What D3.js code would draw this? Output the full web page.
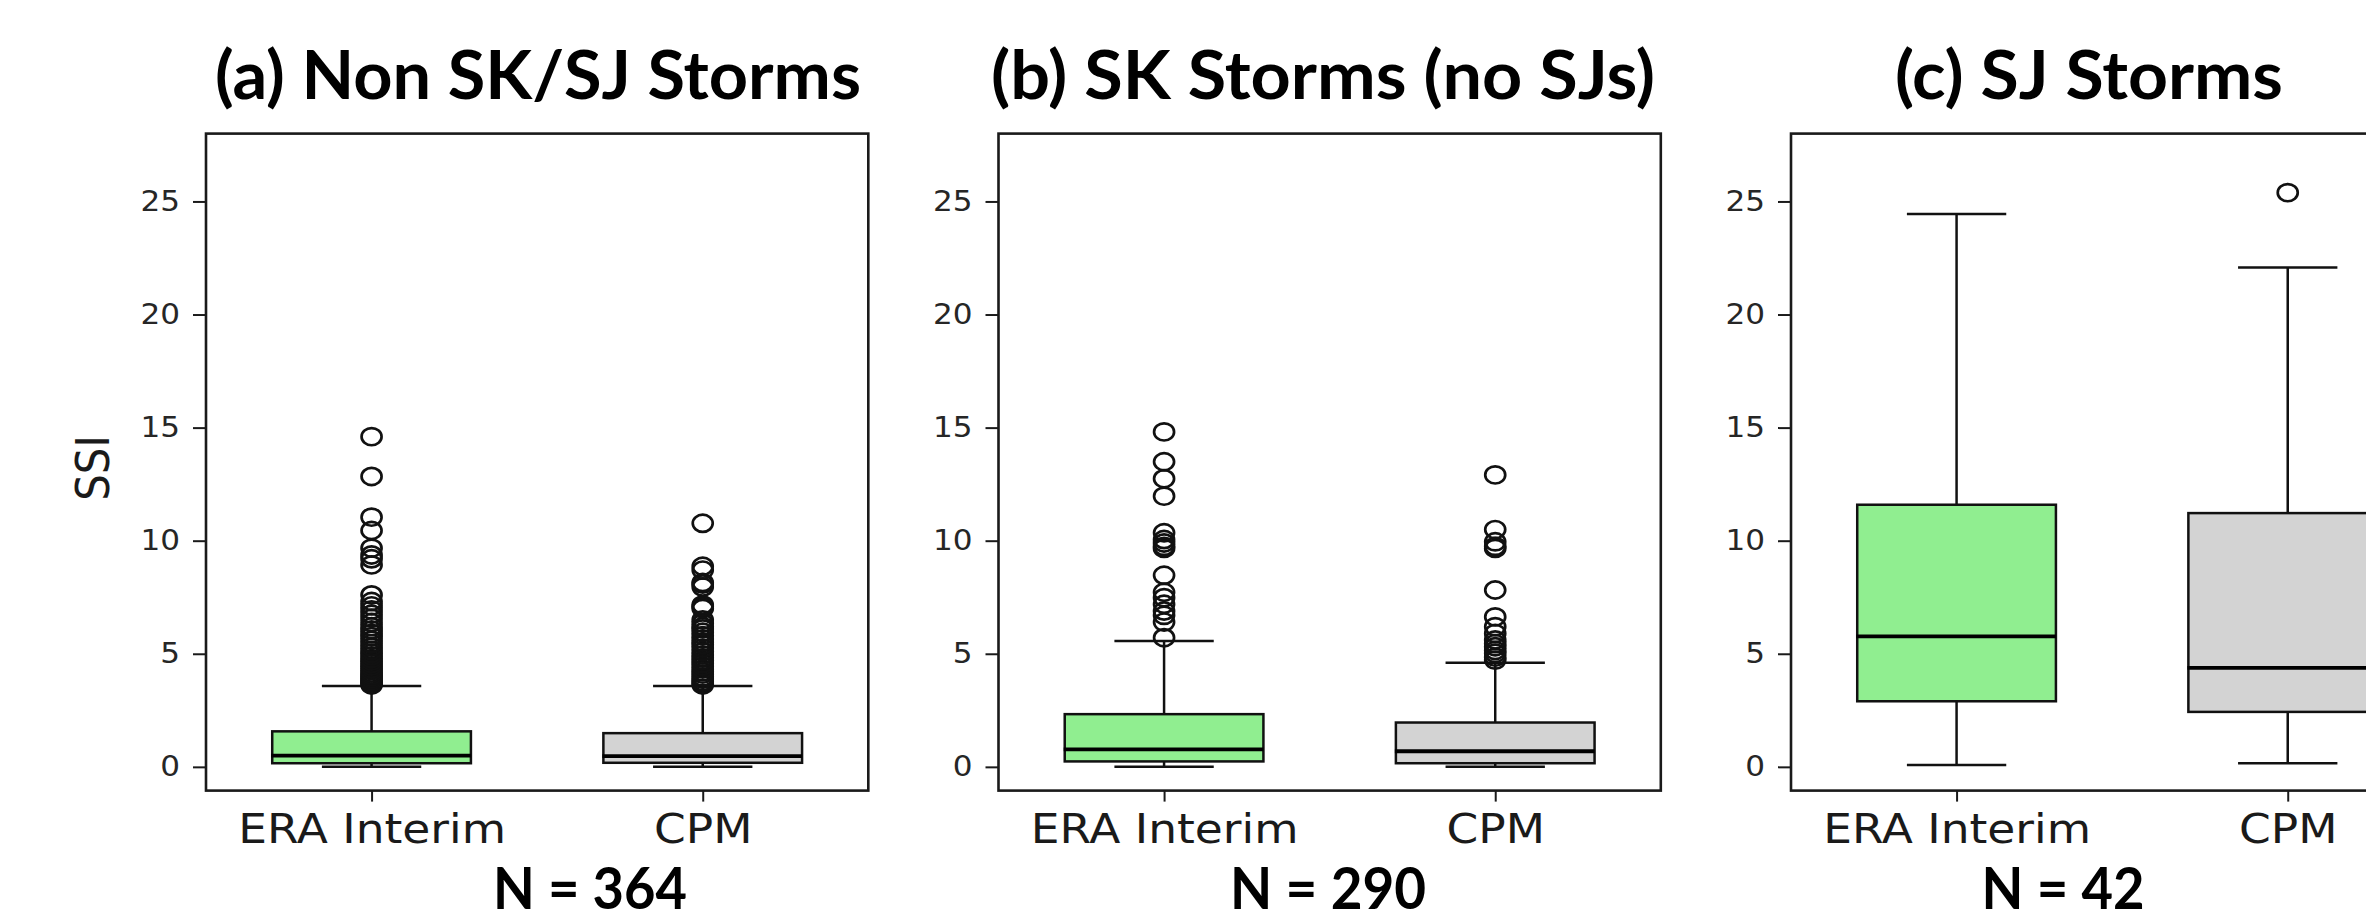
<!DOCTYPE html>
<html>
<head>
<meta charset="utf-8">
<script src="https://cdn.jsdelivr.net/npm/d3@7"></script>
<style>
body{margin:0;background:#fff;}
</style>
</head>
<body>
<script>
// ---- data ----
const categories = ["ERA Interim", "CPM"];
const panelTitles = ["(a) Non SK/SJ Storms", "(b) SK Storms (no SJs)", "(c) SJ Storms"];
const sampleLabels = ["N = 364", "N = 290", "N = 42"];
const yTicks = [0, 5, 10, 15, 20, 25];

// [whisker low, q1, median, q3, whisker high] for ERA Interim / CPM
const statsA = [[0, 0.16, 0.5, 1.57, 3.58], [0, 0.18, 0.47, 1.49, 3.58]];
const statsB = [[0, 0.24, 0.77, 2.33, 5.57], [0, 0.16, 0.69, 1.96, 4.6]];
const statsC = [[0.08, 2.9, 5.77, 11.59, 24.44], [0.16, 2.43, 4.38, 11.22, 22.08]];

const fliersEraA = [3.62, 3.68, 3.75, 3.82, 3.9, 3.98, 4.06, 4.15, 4.25, 4.35, 4.45, 4.56, 4.67, 4.78, 4.9, 5.02, 5.15, 5.3, 5.45, 5.6, 5.76, 5.9, 6.05, 6.2, 6.38, 6.57, 6.75, 6.94, 7.12, 7.31, 7.6, 8.93, 9.2, 9.37, 9.67, 10.45, 11.04, 12.84, 14.6];
const fliersCpmA = [3.62, 3.7, 3.78, 3.88, 3.98, 4.1, 4.2, 4.32, 4.45, 4.58, 4.7, 4.82, 4.95, 5.1, 5.25, 5.4, 5.51, 5.65, 5.8, 5.95, 6.1, 6.2, 6.35, 6.5, 7.0, 7.09, 7.16, 7.95, 8.08, 8.15, 8.7, 8.87, 10.77];
const fliersEraB = [5.71, 6.4, 6.7, 6.89, 7.19, 7.48, 7.72, 8.47, 9.66, 9.75, 9.9, 10.05, 10.35, 11.97, 12.74, 13.49, 14.81];
const fliersCpmB = [4.72, 4.85, 5.02, 5.15, 5.31, 5.45, 5.61, 5.9, 6.2, 6.63, 7.82, 9.66, 9.75, 9.95, 10.49, 12.91];
const fliersEraC = [];
const fliersCpmC = [25.39];

const boxFills = ["#90ee90", "#d3d3d3"];

// panels built from the arrays above
const panels = [
  {title: panelTitles[0], n: sampleLabels[0], stats: statsA, fliers: [fliersEraA, fliersCpmA]},
  {title: panelTitles[1], n: sampleLabels[1], stats: statsB, fliers: [fliersEraB, fliersCpmB]},
  {title: panelTitles[2], n: sampleLabels[2], stats: statsC, fliers: [fliersEraC, fliersCpmC]}
];

// ---- layout ----
const W = 2366, H = 922;
const panelLeft = [206, 998.5, 1791];
const panelW = 662.3, plotTop = 133.6, plotBottom = 790.6;
const titleX = [538, 1323, 2089], titleW = [646, 664, 388];
const nX = [590, 1328, 2063], nW = [194, 196, 163];
const sx = 1.11; // the picture is a bit stretched sideways

const svg = d3.select("body").append("svg")
  .attr("width", W).attr("height", H)
  .style("font-family", "'DejaVu Sans', sans-serif");

const y = d3.scaleLinear().domain([-1.05, 28]).range([plotBottom, plotTop]);
const x = d3.scaleLinear().domain([0.5, 2.5]).range([0, panelW]);

panels.forEach(function(p, i){
  const g = svg.append("g").attr("transform", "translate(" + panelLeft[i] + ",0)");

  p.stats.forEach(function(s, k){
    const c = x(k + 1);
    const bw = x(k + 1.3) - x(k + 0.7);
    const cw = x(k + 1.15) - x(k + 0.85);
    const b = g.append("g");
    // whiskers
    b.append("line").attr("x1", c).attr("x2", c).attr("y1", y(s[0])).attr("y2", y(s[1]))
      .attr("stroke", "#111").attr("stroke-width", 2.5);
    b.append("line").attr("x1", c).attr("x2", c).attr("y1", y(s[3])).attr("y2", y(s[4]))
      .attr("stroke", "#111").attr("stroke-width", 2.5);
    // caps
    [s[0], s[4]].forEach(function(v){
      b.append("line").attr("x1", c - cw / 2).attr("x2", c + cw / 2).attr("y1", y(v)).attr("y2", y(v))
        .attr("stroke", "#111").attr("stroke-width", 2.5);
    });
    // box
    b.append("rect").attr("x", c - bw / 2).attr("width", bw)
      .attr("y", y(s[3])).attr("height", y(s[1]) - y(s[3]))
      .attr("fill", boxFills[k]).attr("stroke", "#111").attr("stroke-width", 2.5);
    // median
    b.append("line").attr("x1", c - bw / 2 - 1).attr("x2", c + bw / 2).attr("y1", y(s[2])).attr("y2", y(s[2]))
      .attr("stroke", "#000").attr("stroke-width", 3.8);
    // outliers
    b.selectAll("ellipse").data(p.fliers[k]).enter().append("ellipse")
      .attr("cx", c).attr("cy", d => y(d))
      .attr("rx", 10).attr("ry", 8.6)
      .attr("fill", "none").attr("stroke", "#111").attr("stroke-width", 2.7);
  });

  // frame
  g.append("rect").attr("x", 0).attr("y", plotTop).attr("width", panelW).attr("height", plotBottom - plotTop)
    .attr("fill", "none").attr("stroke", "#1a1a1a").attr("stroke-width", 2.6);

  // y axis
  const ya = g.append("g").call(d3.axisLeft(y).tickValues(yTicks).tickSize(13).tickPadding(13));
  ya.select(".domain").remove();
  ya.selectAll(".tick line").attr("stroke", "#1a1a1a").attr("stroke-width", 2);
  ya.selectAll(".tick text").attr("font-size", 28).attr("fill", "#262626")
    .attr("font-family", "'DejaVu Sans', sans-serif")
    .attr("x", -26 / sx).attr("transform", "scale(" + sx + ",1)");

  // x axis
  const xa = g.append("g").attr("transform", "translate(0," + plotBottom + ")")
    .call(d3.axisBottom(x).tickValues([1, 2]).tickFormat((d, j) => categories[j]).tickSize(11).tickPadding(12.6));
  xa.select(".domain").remove();
  xa.selectAll(".tick line").attr("stroke", "#1a1a1a").attr("stroke-width", 2);
  xa.selectAll(".tick text").attr("font-size", 41).attr("fill", "#1a1a1a")
    .attr("font-family", "'DejaVu Sans', sans-serif")
    .attr("transform", "scale(" + sx + ",1)");

  // title and sample size
  svg.append("text").attr("x", titleX[i]).attr("y", 99)
    .attr("text-anchor", "middle").attr("font-family", "Lato, sans-serif").attr("font-weight", "bold")
    .attr("font-size", 66).attr("textLength", titleW[i]).attr("lengthAdjust", "spacingAndGlyphs")
    .text(p.title);
  svg.append("text").attr("x", nX[i]).attr("y", 909)
    .attr("text-anchor", "middle").attr("font-family", "Lato, sans-serif").attr("font-weight", "bold")
    .attr("font-size", 58).attr("textLength", nW[i]).attr("lengthAdjust", "spacingAndGlyphs")
    .text(p.n);
});

// y label
svg.append("text")
  .attr("transform", "translate(92,468) scale(" + sx + ",1) rotate(-90)")
  .attr("text-anchor", "middle").attr("dy", "0.36em")
  .attr("font-size", 42).attr("fill", "#1a1a1a")
  .text("SSI");
</script>
</body>
</html>
